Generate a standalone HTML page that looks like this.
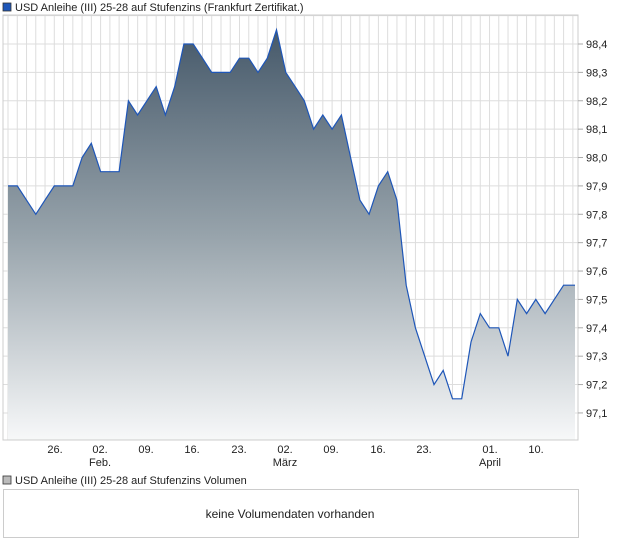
<!DOCTYPE html>
<html><head><meta charset="utf-8"><style>
body{margin:0;background:#fff;font-family:"Liberation Sans",sans-serif;}
svg text{font-family:"Liberation Sans",sans-serif;font-size:11px;fill:#222;}
</style></head><body>
<svg id="s" width="620" height="546" xmlns="http://www.w3.org/2000/svg">
<defs><linearGradient id="g" gradientUnits="userSpaceOnUse" x1="0" y1="30" x2="0" y2="440">
<stop offset="0" stop-color="#46596a"/><stop offset="0.5" stop-color="#97a3ab"/><stop offset="1" stop-color="#f7f8f9"/></linearGradient></defs>
<rect x="3" y="3" width="8" height="8" fill="#1e56b8" stroke="#333" stroke-width="0.8"/>
<text x="15" y="11">USD Anleihe (III) 25-28 auf Stufenzins (Frankfurt Zertifikat.)</text>
<g id="grid"></g>
<path id="area" fill="url(#g)"/>
<path id="line" fill="none" stroke="#1e56b8" stroke-width="1.2"/>
<rect x="3" y="15" width="575" height="425" fill="none" stroke="#ccc"/>
<g id="lab"></g>
<rect x="3" y="476" width="8" height="8" fill="#bbb" stroke="#333" stroke-width="0.8"/>
<text x="15" y="484">USD Anleihe (III) 25-28 auf Stufenzins Volumen</text>
<rect x="3.5" y="489.5" width="575" height="48" fill="none" stroke="#ccc"/>
<text x="290" y="518" text-anchor="middle" style="font-size:12px">keine Volumendaten vorhanden</text>
</svg>
<script>
var ns="http://www.w3.org/2000/svg";
function el(p,t,a,txt){var e=document.createElementNS(ns,t);for(var k in a)e.setAttribute(k,a[k]);if(txt)e.textContent=txt;document.getElementById(p).appendChild(e);}
function Y(v){return 44+(98.4-v)*283.8;}
for(var x=8;x<578;x+=9.26)el("grid","line",{x1:x,x2:x,y1:15,y2:440,stroke:"#ddd"});
for(var i=0;i<=14;i++){var v=97.1+i*0.1;var y=Y(v);if(y<15)continue;el("grid","line",{x1:3,x2:578,y1:y,y2:y,stroke:"#ddd"});
if(v<98.45){el("lab","line",{x1:578,x2:583,y1:y,y2:y,stroke:"#aaa"});el("lab","text",{x:586,y:y+4},v.toFixed(1).replace(".",","));}}
var xs=[[55,"26."],[100,"02."],[146,"09."],[192,"16."],[239,"23."],[285,"02."],[331,"09."],[378,"16."],[424,"23."],[490,"01."],[536,"10."]];
xs.forEach(function(a){el("lab","text",{x:a[0],y:453,"text-anchor":"middle"},a[1]);});
el("lab","text",{x:100,y:466,"text-anchor":"middle"},"Feb.");
el("lab","text",{x:285,y:466,"text-anchor":"middle"},"März");
el("lab","text",{x:490,y:466,"text-anchor":"middle"},"April");
var d=[97.9,97.9,97.85,97.8,97.85,97.9,97.9,97.9,98.0,98.05,97.95,97.95,97.95,98.2,98.15,98.2,98.25,98.15,98.25,98.4,98.4,98.35,98.3,98.3,98.3,98.35,98.35,98.3,98.35,98.45,98.3,98.25,98.2,98.1,98.15,98.1,98.15,98.0,97.85,97.8,97.9,97.95,97.85,97.55,97.4,97.3,97.2,97.25,97.15,97.15,97.35,97.45,97.4,97.4,97.3,97.5,97.45,97.5,97.45,97.5,97.55,97.55];
var p="";d.forEach(function(v,i){var x=8+i*9.26;if(i==d.length-1)x=575;p+=(i?"L":"M")+x.toFixed(1)+","+Y(v).toFixed(1);});
document.getElementById("line").setAttribute("d",p);
document.getElementById("area").setAttribute("d",p+"L575,440L8,440Z");
</script>
</body></html>
